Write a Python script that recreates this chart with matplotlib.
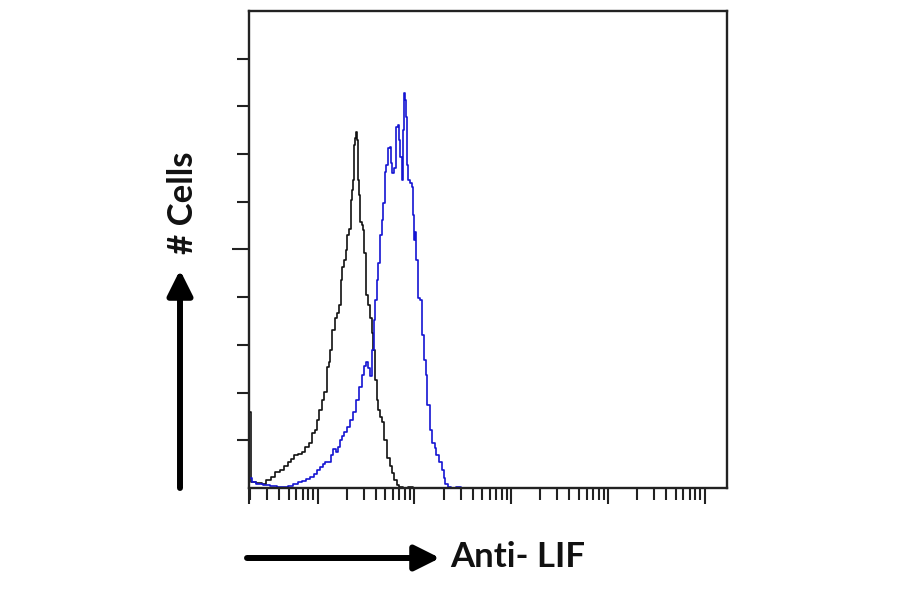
import numpy as np
import matplotlib
matplotlib.use("Agg")
import matplotlib.pyplot as plt

# ---- data (log10 fluorescence, relative cell count) ----
control_log = [0.305, 0.321, 0.393, 0.444, 0.496, 0.537, 0.589, 0.630, 0.671, 0.712,
               0.743, 0.774, 0.815, 0.857, 0.888, 0.929, 0.960, 0.980, 1.001, 1.032,
               1.053, 1.084, 1.104, 1.125, 1.135, 1.166, 1.187, 1.207, 1.228, 1.248,
               1.259, 1.279, 1.300, 1.310, 1.331, 1.352, 1.362, 1.372, 1.383, 1.393,
               1.403, 1.413, 1.424, 1.434, 1.444, 1.465, 1.475, 1.486, 1.506, 1.527,
               1.547, 1.568, 1.578, 1.599, 1.620, 1.630, 1.651, 1.671, 1.702, 1.733,
               1.754, 1.774, 1.805, 1.826, 1.857, 1.898, 1.960, 2.011]
control_cnt = [15.9, 1.3, 1.0, 0.8, 1.7, 2.3, 3.4, 3.8, 4.6, 5.5,
               6.1, 6.9, 7.1, 7.5, 8.6, 9.4, 11.5, 12.2, 14.3, 16.4,
               18.4, 20.1, 25.4, 26.4, 28.9, 33.1, 35.6, 36.7, 38.4, 43.6,
               46.3, 47.8, 49.9, 53.0, 54.3, 60.4, 62.5, 64.6, 71.9, 73.4,
               74.6, 73.0, 64.6, 61.4, 55.8, 55.1, 54.1, 49.3, 40.5, 38.4,
               35.6, 32.5, 28.9, 22.6, 18.4, 16.4, 14.9, 13.8, 10.1, 6.3,
               4.6, 3.1, 1.7, 0.6, 0.2, 0.0, 0.2, 0.0]

lif_log = [0.305, 0.331, 0.393, 0.465, 0.537, 0.620, 0.671, 0.723, 0.774, 0.826,
           0.857, 0.898, 0.939, 0.980, 1.011, 1.042, 1.063, 1.094, 1.125, 1.145,
           1.176, 1.197, 1.218, 1.238, 1.259, 1.290, 1.321, 1.352, 1.383, 1.413,
           1.444, 1.465, 1.486, 1.506, 1.527, 1.547, 1.568, 1.588, 1.599, 1.620,
           1.630, 1.651, 1.671, 1.682, 1.702, 1.712, 1.733, 1.754, 1.764, 1.774,
           1.795, 1.815, 1.836, 1.846, 1.857, 1.877, 1.888, 1.898, 1.908, 1.918,
           1.929, 1.939, 1.960, 1.980, 1.990, 2.001, 2.011, 2.021, 2.042, 2.063,
           2.083, 2.104, 2.124, 2.145, 2.166, 2.197, 2.217, 2.238, 2.269, 2.290,
           2.310, 2.331, 2.352, 2.393, 2.455, 2.496]
lif_cnt = [2.1, 1.3, 0.8, 0.6, 0.4, 0.2, 0.2, 0.4, 0.8, 1.3,
           1.5, 1.9, 2.3, 2.9, 3.8, 4.4, 5.0, 5.5, 5.5, 6.9,
           8.2, 7.5, 8.6, 10.1, 10.9, 11.7, 12.8, 14.3, 15.9, 18.4,
           21.2, 23.7, 25.6, 26.4, 25.2, 23.5, 28.9, 35.2, 39.4, 43.6,
           47.2, 53.0, 56.2, 59.7, 66.2, 67.7, 71.3, 71.5, 68.1, 66.0,
           67.1, 75.7, 76.1, 73.0, 69.4, 64.6, 75.1, 82.8, 81.3, 77.8,
           67.7, 64.6, 63.9, 63.1, 57.2, 52.0, 53.7, 47.8, 39.8, 39.4,
           32.1, 26.8, 23.7, 17.4, 12.2, 9.4, 8.4, 6.9, 5.5, 3.8,
           2.1, 0.8, 0.2, 0.0, 0.2, 0.0]

x_label = "Anti- LIF"
y_label = "# Cells"

DPI = 100
fig = plt.figure(figsize=(9.0, 5.94), dpi=DPI)
ax = fig.add_axes([249/900, 1-488/594, (727-249)/900, (488-11)/594])

ax.plot(10**np.array(control_log), control_cnt, color="#111111", lw=1.2,
        drawstyle="steps-mid")
ax.plot(10**np.array(lif_log), lif_cnt, color="#1414d2", lw=1.2,
        drawstyle="steps-mid")

ax.set_xscale("log")
xmin, xmax = 10**0.29, 10**5.23
ax.set_xlim(xmin, xmax)
ax.set_ylim(0, 100)

ax.set_xticks([xmin, 1e1, 1e2, 1e3, 1e4, 1e5])
ax.set_xticklabels([])
minors = [m * 10**d for d in range(0, 6) for m in range(2, 10) if xmin < m * 10**d < xmax]
ax.set_xticks(minors, minor=True)
ax.set_xticklabels([], minor=True)

ax.set_yticks([50])
ax.set_yticklabels([])
ax.set_yticks([10, 20, 30, 40, 60, 70, 80, 90], minor=True)
ax.set_yticklabels([], minor=True)

tc = "#222222"
ax.tick_params(axis="x", which="major", direction="out", length=11.5, width=1.5, color=tc)
ax.tick_params(axis="x", which="minor", direction="out", length=8.5, width=1.5, color=tc)
ax.tick_params(axis="y", which="major", direction="out", length=12, width=1.5, color=tc)
ax.tick_params(axis="y", which="minor", direction="out", length=8.5, width=1.5, color=tc)

for s in ax.spines.values():
    s.set_linewidth(1.7)
    s.set_color(tc)

# axis arrows and labels
H = 594
ax.annotate("", xy=(440, H-558), xytext=(247, H-558), xycoords="figure pixels",
            textcoords="figure pixels",
            arrowprops=dict(arrowstyle="-|>", lw=4.3, color="black",
                            mutation_scale=38, shrinkA=0, shrinkB=0))
ax.annotate("", xy=(180, H-270), xytext=(180, H-488), xycoords="figure pixels",
            textcoords="figure pixels",
            arrowprops=dict(arrowstyle="-|>", lw=4.3, color="black",
                            mutation_scale=38, shrinkA=0, shrinkB=0))

fig.text(450/900, 1-557/594, x_label, fontfamily="Lato", fontweight="bold",
         fontsize=25, ha="left", va="center", color="#111111")
fig.text(183/900, 1-203/594, y_label, fontfamily="Lato", fontweight="bold",
         fontsize=25, ha="center", va="center", rotation=90, color="#111111")

fig.savefig("out.png", dpi=DPI)
